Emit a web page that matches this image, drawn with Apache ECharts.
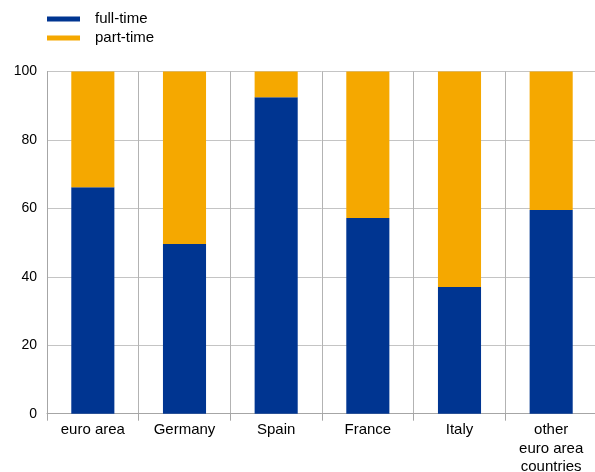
<!DOCTYPE html>
<html><head><meta charset="utf-8">
<script src="https://cdn.jsdelivr.net/npm/echarts@6/dist/echarts.min.js"></script>
<style>html,body{margin:0;padding:0;background:#fff}#c{width:595px;height:472px}</style>
</head><body><div id="c"></div>
<script>
var categories = ['euro area', 'Germany', 'Spain', 'France', 'Italy', 'other\neuro area\ncountries'];
var fullTime = [66.2, 49.6, 92.5, 57.2, 37.0, 59.5];
var partTime = [33.8, 50.4, 7.5, 42.8, 63.0, 40.5];
var yTicks = [0, 20, 40, 60, 80, 100];

var chart = echarts.init(document.getElementById('c'), null, {renderer: 'canvas'});
chart.setOption({
  animation: false,
  textStyle: {fontFamily: 'Liberation Sans, Arial, sans-serif'},
  legend: {
    orient: 'vertical', left: 47, top: 10.5, itemGap: 2, padding: 0,
    itemWidth: 33, itemHeight: 5, icon: 'rect',
    textStyle: {fontSize: 15, color: '#000', lineHeight: 17, padding: [0, 0, 0, 10]},
    data: ['full-time', 'part-time']
  },
  grid: {left: 47, top: 71.5, right: -2, bottom: 58.3, containLabel: false, outerBoundsMode: 'none'},
  xAxis: {
    type: 'category', data: categories, boundaryGap: true,
    axisLine: {lineStyle: {color: '#a6a6a6', width: 1}},
    axisTick: {show: true, length: 7, lineStyle: {color: '#a6a6a6'}},
    axisLabel: {fontSize: 15, color: '#000', margin: 7, lineHeight: 18.5},
    splitLine: {show: true, lineStyle: {color: '#b3b3b3', width: 1}}
  },
  yAxis: {
    type: 'value', min: 0, max: 100, interval: 20,
    axisLine: {show: true, lineStyle: {color: '#a6a6a6'}},
    axisTick: {show: false},
    axisLabel: {fontSize: 14, color: '#000', margin: 10,
      formatter: function (v) { return yTicks.indexOf(v) >= 0 ? String(v) : ''; }},
    splitLine: {show: true, lineStyle: {color: '#c4c4c4', width: 1}}
  },
  series: [
    {name: 'full-time', type: 'bar', stack: 's', data: fullTime, barWidth: '47%', itemStyle: {color: '#003591'}},
    {name: 'part-time', type: 'bar', stack: 's', data: partTime, barWidth: '47%', itemStyle: {color: '#f5a800'}}
  ]
});
</script></body></html>
